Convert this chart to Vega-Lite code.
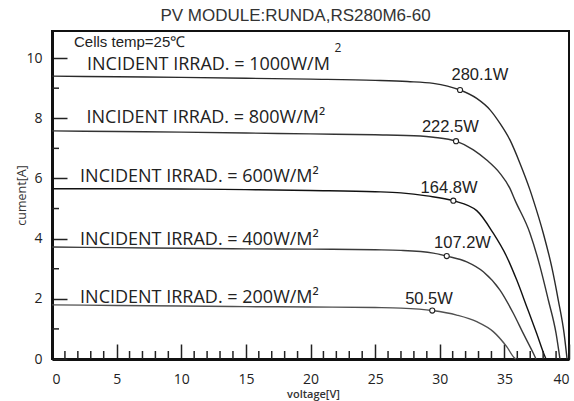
{
  "$schema": "https://vega.github.io/schema/vega-lite/v6.json",
  "width": 517,
  "height": 328,
  "autosize": {"type": "none"},
  "padding": {"left": 52, "top": 31, "right": 5, "bottom": 42},
  "background": "white",
  "title": {
    "text": "PV MODULE:RUNDA,RS280M6-60",
    "font": "Liberation Sans",
    "fontSize": 17,
    "fontWeight": "normal",
    "color": "#333",
    "offset": 6,
    "dx": -15
  },
  "datasets": {
    "curves": [
      {"irr": "1000", "V": 0, "I": 9.40}, {"irr": "1000", "V": 5, "I": 9.38}, {"irr": "1000", "V": 10, "I": 9.36},
      {"irr": "1000", "V": 15, "I": 9.33}, {"irr": "1000", "V": 20, "I": 9.30}, {"irr": "1000", "V": 25, "I": 9.26},
      {"irr": "1000", "V": 27.5, "I": 9.22}, {"irr": "1000", "V": 29.5, "I": 9.16}, {"irr": "1000", "V": 30.6, "I": 9.07},
      {"irr": "1000", "V": 31.57, "I": 8.94}, {"irr": "1000", "V": 32.86, "I": 8.66}, {"irr": "1000", "V": 33.89, "I": 8.28},
      {"irr": "1000", "V": 34.66, "I": 7.83}, {"irr": "1000", "V": 35.43, "I": 7.28}, {"irr": "1000", "V": 36.21, "I": 6.50},
      {"irr": "1000", "V": 36.98, "I": 5.62}, {"irr": "1000", "V": 37.24, "I": 5.28}, {"irr": "1000", "V": 38.01, "I": 4.18},
      {"irr": "1000", "V": 38.66, "I": 3.07}, {"irr": "1000", "V": 39.17, "I": 1.96}, {"irr": "1000", "V": 39.62, "I": 0.85},
      {"irr": "1000", "V": 39.85, "I": 0},
      {"irr": "800", "V": 0, "I": 7.58}, {"irr": "800", "V": 5, "I": 7.56}, {"irr": "800", "V": 10, "I": 7.54},
      {"irr": "800", "V": 15, "I": 7.51}, {"irr": "800", "V": 20, "I": 7.48}, {"irr": "800", "V": 25, "I": 7.45},
      {"irr": "800", "V": 28.5, "I": 7.41}, {"irr": "800", "V": 29.5, "I": 7.37}, {"irr": "800", "V": 31.26, "I": 7.24},
      {"irr": "800", "V": 32.6, "I": 6.95}, {"irr": "800", "V": 33.63, "I": 6.61}, {"irr": "800", "V": 34.66, "I": 6.17},
      {"irr": "800", "V": 35.43, "I": 5.67}, {"irr": "800", "V": 35.82, "I": 5.28}, {"irr": "800", "V": 36.98, "I": 4.18},
      {"irr": "800", "V": 37.76, "I": 3.07}, {"irr": "800", "V": 38.40, "I": 1.96}, {"irr": "800", "V": 39.0, "I": 0.85},
      {"irr": "800", "V": 39.3, "I": 0},
      {"irr": "600", "V": 0, "I": 5.66}, {"irr": "600", "V": 5, "I": 5.66}, {"irr": "600", "V": 10, "I": 5.65},
      {"irr": "600", "V": 15, "I": 5.63}, {"irr": "600", "V": 20, "I": 5.60}, {"irr": "600", "V": 25, "I": 5.56},
      {"irr": "600", "V": 27, "I": 5.52}, {"irr": "600", "V": 29, "I": 5.42}, {"irr": "600", "V": 31.05, "I": 5.26},
      {"irr": "600", "V": 32.86, "I": 4.93}, {"irr": "600", "V": 34.14, "I": 4.18}, {"irr": "600", "V": 35.18, "I": 3.40},
      {"irr": "600", "V": 35.95, "I": 2.63}, {"irr": "600", "V": 36.73, "I": 1.74}, {"irr": "600", "V": 37.5, "I": 0.85},
      {"irr": "600", "V": 38.14, "I": 0.08}, {"irr": "600", "V": 38.22, "I": 0},
      {"irr": "400", "V": 0, "I": 3.72}, {"irr": "400", "V": 5, "I": 3.70}, {"irr": "400", "V": 10, "I": 3.68},
      {"irr": "400", "V": 15, "I": 3.66}, {"irr": "400", "V": 20, "I": 3.65}, {"irr": "400", "V": 25, "I": 3.63},
      {"irr": "400", "V": 27, "I": 3.61}, {"irr": "400", "V": 29.5, "I": 3.52}, {"irr": "400", "V": 30.54, "I": 3.42},
      {"irr": "400", "V": 32.09, "I": 3.23}, {"irr": "400", "V": 33.37, "I": 2.90}, {"irr": "400", "V": 34.66, "I": 2.29},
      {"irr": "400", "V": 35.69, "I": 1.52}, {"irr": "400", "V": 36.46, "I": 0.85}, {"irr": "400", "V": 37.24, "I": 0.19},
      {"irr": "400", "V": 37.45, "I": 0},
      {"irr": "200", "V": 0, "I": 1.80}, {"irr": "200", "V": 5, "I": 1.78}, {"irr": "200", "V": 10, "I": 1.76},
      {"irr": "200", "V": 15, "I": 1.74}, {"irr": "200", "V": 20, "I": 1.73}, {"irr": "200", "V": 25, "I": 1.71},
      {"irr": "200", "V": 27, "I": 1.69}, {"irr": "200", "V": 29.42, "I": 1.61}, {"irr": "200", "V": 31.31, "I": 1.46},
      {"irr": "200", "V": 32.86, "I": 1.24}, {"irr": "200", "V": 34.14, "I": 0.91}, {"irr": "200", "V": 35.18, "I": 0.41},
      {"irr": "200", "V": 35.82, "I": 0.02}, {"irr": "200", "V": 35.9, "I": 0}
    ],
    "mpp": [
      {"V": 31.57, "I": 8.94}, {"V": 31.26, "I": 7.24}, {"V": 31.05, "I": 5.26},
      {"V": 30.54, "I": 3.42}, {"V": 29.42, "I": 1.61}
    ],
    "xminor": [
      {"V": 1, "I": 0}, {"V": 2, "I": 0}, {"V": 3, "I": 0}, {"V": 4, "I": 0},
      {"V": 6, "I": 0}, {"V": 7, "I": 0}, {"V": 8, "I": 0}, {"V": 9, "I": 0},
      {"V": 11, "I": 0}, {"V": 12, "I": 0}, {"V": 13, "I": 0}, {"V": 14, "I": 0},
      {"V": 16, "I": 0}, {"V": 17, "I": 0}, {"V": 18, "I": 0}, {"V": 19, "I": 0},
      {"V": 21, "I": 0}, {"V": 22, "I": 0}, {"V": 23, "I": 0}, {"V": 24, "I": 0},
      {"V": 26, "I": 0}, {"V": 27, "I": 0}, {"V": 28, "I": 0}, {"V": 29, "I": 0},
      {"V": 31, "I": 0}, {"V": 32, "I": 0}, {"V": 33, "I": 0}, {"V": 34, "I": 0},
      {"V": 36, "I": 0}, {"V": 37, "I": 0}, {"V": 38, "I": 0}, {"V": 39, "I": 0}
    ],
    "yminor": [
      {"V": 0, "I": 1}, {"V": 0, "I": 3}, {"V": 0, "I": 5}, {"V": 0, "I": 7}, {"V": 0, "I": 9}
    ],
    "irrad": [
      {"V": 2.71, "I": 9.62, "t": "INCIDENT IRRAD. = 1000W/M"},
      {"V": 2.67, "I": 7.83, "t": "INCIDENT IRRAD. = 800W/M²"},
      {"V": 2.17, "I": 5.89, "t": "INCIDENT IRRAD. = 600W/M²"},
      {"V": 2.17, "I": 3.79, "t": "INCIDENT IRRAD. = 400W/M²"},
      {"V": 2.17, "I": 1.85, "t": "INCIDENT IRRAD. = 200W/M²"}
    ],
    "power": [
      {"V": 33.11, "I": 9.27, "t": "280.1W"},
      {"V": 30.82, "I": 7.55, "t": "222.5W"},
      {"V": 30.72, "I": 5.51, "t": "164.8W"},
      {"V": 31.76, "I": 3.68, "t": "107.2W"},
      {"V": 29.17, "I": 1.83, "t": "50.5W"}
    ],
    "temp": [{"V": 1.70, "I": 10.38, "t": "Cells temp=25℃"}],
    "sup": [{"V": 22.13, "I": 10.20, "t": "2"}]
  },
  "layer": [
    {
      "data": {"name": "curves"},
      "mark": {"type": "line", "interpolate": "monotone", "strokeWidth": 1.4},
      "encoding": {
        "x": {
          "field": "V", "type": "quantitative",
          "scale": {"domain": [0, 40], "nice": false, "zero": false},
          "axis": {
            "title": "voltage[V]",
            "values": [0, 5, 10, 15, 20, 25, 30, 35, 40],
            "format": "d",
            "tickCount": 20,
            "tickSize": -15,
            "labelOverlap": false,
            "labelPadding": 28,
            "labelFlush": true,
            "titleX": 261,
            "titleY": 35.5,
            "titleBaseline": "middle",
            "titleAlign": "center",
            "titleFontWeight": 600
          }
        },
        "y": {
          "field": "I", "type": "quantitative",
          "scale": {"domain": [0, 10.9], "nice": false},
          "axis": {
            "title": "cument[A]",
            "values": [0, 2, 4, 6, 8, 10],
            "format": "d",
            "tickCount": 20,
            "tickSize": -15,
            "labelOverlap": false,
            "labelPadding": 25,
            "titleX": -31,
            "titleY": 164,
            "titleBaseline": "middle",
            "titleAlign": "center",
            "titleFontSize": 12.5
          }
        },
        "color": {
          "field": "irr", "type": "nominal",
          "scale": {"domain": ["1000", "800", "600", "400", "200"], "range": ["#2a2a2a", "#333333", "#111111", "#3a3a3a", "#505050"]},
          "legend": null
        }
      }
    },
    {
      "data": {"name": "xminor"},
      "mark": {"type": "tick", "orient": "vertical", "size": 16, "thickness": 1.5, "color": "#222", "opacity": 1, "clip": true},
      "encoding": {
        "x": {"field": "V", "type": "quantitative"},
        "y": {"field": "I", "type": "quantitative"}
      }
    },
    {
      "data": {"name": "yminor"},
      "mark": {"type": "tick", "orient": "horizontal", "size": 14, "thickness": 1.5, "color": "#222", "opacity": 1, "clip": true},
      "encoding": {
        "x": {"field": "V", "type": "quantitative"},
        "y": {"field": "I", "type": "quantitative"}
      }
    },
    {
      "data": {"name": "mpp"},
      "mark": {"type": "point", "shape": "circle", "filled": true, "fill": "white", "stroke": "#222", "strokeWidth": 1.1, "size": 26, "opacity": 1},
      "encoding": {
        "x": {"field": "V", "type": "quantitative"},
        "y": {"field": "I", "type": "quantitative"}
      }
    },
    {
      "data": {"name": "irrad"},
      "mark": {"type": "text", "align": "left", "baseline": "alphabetic", "font": "Open Sans", "fontSize": 18, "color": "#222"},
      "encoding": {
        "x": {"field": "V", "type": "quantitative"},
        "y": {"field": "I", "type": "quantitative"},
        "text": {"field": "t"}
      }
    },
    {
      "data": {"name": "power"},
      "mark": {"type": "text", "align": "center", "baseline": "alphabetic", "font": "Liberation Sans", "fontSize": 16.5, "color": "#222"},
      "encoding": {
        "x": {"field": "V", "type": "quantitative"},
        "y": {"field": "I", "type": "quantitative"},
        "text": {"field": "t"}
      }
    },
    {
      "data": {"name": "temp"},
      "mark": {"type": "text", "align": "left", "baseline": "alphabetic", "font": "Liberation Sans", "fontSize": 15, "color": "#222"},
      "encoding": {
        "x": {"field": "V", "type": "quantitative"},
        "y": {"field": "I", "type": "quantitative"},
        "text": {"field": "t"}
      }
    },
    {
      "data": {"name": "sup"},
      "mark": {"type": "text", "align": "center", "baseline": "alphabetic", "font": "Open Sans", "fontSize": 12, "color": "#222"},
      "encoding": {
        "x": {"field": "V", "type": "quantitative"},
        "y": {"field": "I", "type": "quantitative"},
        "text": {"field": "t"}
      }
    }
  ],
  "config": {
    "view": {"stroke": "#111", "strokeWidth": 2},
    "axis": {
      "grid": false,
      "domainColor": "#111",
      "domainWidth": 3,
      "tickColor": "#222",
      "tickWidth": 1.5,
      "labelFont": "Open Sans",
      "labelFontSize": 14,
      "labelColor": "#222",
      "titleFont": "Open Sans",
      "titleFontSize": 11,
      "titleFontWeight": "normal",
      "titleColor": "#333"
    }
  }
}
